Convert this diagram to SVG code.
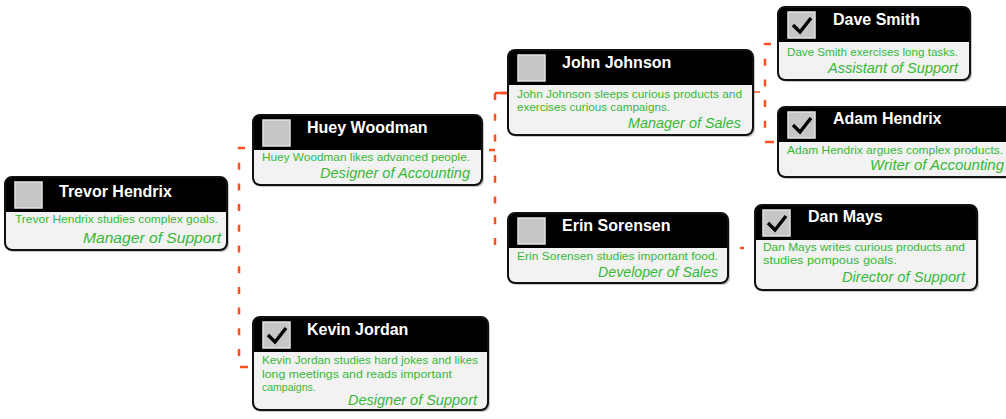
<svg xmlns="http://www.w3.org/2000/svg" width="1006" height="419" viewBox="0 0 1006 419">
  <defs>
    <style>
      .shadow{fill:#000;opacity:.22}
      .frame{fill:#000}
      .body{fill:#f2f2f2}
      .edge{fill:none;stroke:#111;stroke-width:2}
      .cb{fill:#c6c6c6;stroke:#e2e2e2;stroke-width:1.5}
      .tick{fill:none;stroke:#000;stroke-width:3.4;stroke-linejoin:miter}
      .name{font-family:"Liberation Sans",Arial,sans-serif;font-weight:bold;font-size:16px;fill:#fff}
      .desc{font-family:"Liberation Sans",Arial,sans-serif;font-size:10.5px;fill:#36b836}
      .role{font-family:"Liberation Sans",Arial,sans-serif;font-style:italic;font-size:14px;fill:#36b836}
      .link{fill:none;stroke:#ff5022;stroke-width:2.5;stroke-dasharray:7 13.7}
      .stub{fill:none;stroke:#ff5022;stroke-width:2.5}
    </style>
  </defs>

  <rect width="1006" height="419" fill="#fff"/>

  <!-- connectors -->
  <g id="connectors">
    <path class="link" d="M245,148 H239 V362"/>
    <path class="stub" d="M240,367 H248"/>
    <path class="stub" d="M489,150 H495"/>
    <path class="link" d="M508,93 H501 M495,93 V250"/>
    <path class="stub" d="M495,93 H508"/>
    <path class="stub" d="M752,92 H760" style="stroke-width:1.5"/>
    <path class="link" d="M771,44 H765 V138"/>
    <path class="stub" d="M765,142 H774"/>
    <path class="stub" d="M740,248 H744"/>
  </g>

  <!-- Trevor Hendrix -->
  <g id="node-trevor" transform="translate(5,177)">
    <rect class="shadow" x="2" y="2" width="222" height="73" rx="7"/>
    <rect class="frame" width="222" height="73" rx="7"/>
    <path class="body" d="M1,35 H221 V66 Q221,72 215,72 H7 Q1,72 1,66 Z"/>
    <rect class="edge" width="222" height="73" rx="7"/>
    <rect class="cb" x="10" y="5" width="27" height="26"/>
    <text class="name" x="54" y="20">Trevor Hendrix</text>
    <text class="desc" x="10" y="46" textLength="203" lengthAdjust="spacingAndGlyphs">Trevor Hendrix studies complex goals.</text>
    <text class="role" x="78" y="66" textLength="138" lengthAdjust="spacingAndGlyphs">Manager of Support</text>
  </g>

  <!-- Huey Woodman -->
  <g id="node-huey" transform="translate(253,115)">
    <rect class="shadow" x="2" y="2" width="229" height="70" rx="7"/>
    <rect class="frame" width="229" height="70" rx="7"/>
    <path class="body" d="M1,35 H228 V63 Q228,69 222,69 H7 Q1,69 1,63 Z"/>
    <rect class="edge" width="229" height="70" rx="7"/>
    <rect class="cb" x="10" y="5" width="27" height="26"/>
    <text class="name" x="54" y="18">Huey Woodman</text>
    <text class="desc" x="9" y="46" textLength="208" lengthAdjust="spacingAndGlyphs">Huey Woodman likes advanced people.</text>
    <text class="role" x="67" y="63" textLength="150" lengthAdjust="spacingAndGlyphs">Designer of Accounting</text>
  </g>

  <!-- Kevin Jordan -->
  <g id="node-kevin" transform="translate(253,317)">
    <rect class="shadow" x="2" y="2" width="235" height="93" rx="7"/>
    <rect class="frame" width="235" height="93" rx="7"/>
    <path class="body" d="M1,35 H234 V86 Q234,92 228,92 H7 Q1,92 1,86 Z"/>
    <rect class="edge" width="235" height="93" rx="7"/>
    <rect class="cb" x="10" y="5" width="27" height="26"/>
    <path class="tick" d="M15,18 L22,25 L33,11"/>
    <text class="name" x="54" y="18">Kevin Jordan</text>
    <text class="desc" x="9" y="47" textLength="216" lengthAdjust="spacingAndGlyphs">Kevin Jordan studies hard jokes and likes</text>
    <text class="desc" x="9" y="60.5" textLength="190" lengthAdjust="spacingAndGlyphs">long meetings and reads important</text>
    <text class="desc" x="9" y="74">campaigns.</text>
    <text class="role" x="95" y="88" textLength="129" lengthAdjust="spacingAndGlyphs">Designer of Support</text>
  </g>

  <!-- John Johnson -->
  <g id="node-john" transform="translate(508,50)">
    <rect class="shadow" x="2" y="2" width="245" height="85" rx="7"/>
    <rect class="frame" width="245" height="85" rx="7"/>
    <path class="body" d="M1,35 H244 V78 Q244,84 238,84 H7 Q1,84 1,78 Z"/>
    <rect class="edge" width="245" height="85" rx="7"/>
    <rect class="cb" x="10" y="5" width="27" height="26"/>
    <text class="name" x="54" y="18">John Johnson</text>
    <text class="desc" x="9" y="48" textLength="225" lengthAdjust="spacingAndGlyphs">John Johnson sleeps curious products and</text>
    <text class="desc" x="9" y="61" textLength="153" lengthAdjust="spacingAndGlyphs">exercises curious campaigns.</text>
    <text class="role" x="120" y="78" textLength="113" lengthAdjust="spacingAndGlyphs">Manager of Sales</text>
  </g>

  <!-- Erin Sorensen -->
  <g id="node-erin" transform="translate(508,213)">
    <rect class="shadow" x="2" y="2" width="220" height="70" rx="7"/>
    <rect class="frame" width="220" height="70" rx="7"/>
    <path class="body" d="M1,35 H219 V63 Q219,69 213,69 H7 Q1,69 1,63 Z"/>
    <rect class="edge" width="220" height="70" rx="7"/>
    <rect class="cb" x="10" y="5" width="27" height="26"/>
    <text class="name" x="54" y="18">Erin Sorensen</text>
    <text class="desc" x="9" y="47" textLength="201" lengthAdjust="spacingAndGlyphs">Erin Sorensen studies important food.</text>
    <text class="role" x="90" y="64" textLength="120" lengthAdjust="spacingAndGlyphs">Developer of Sales</text>
  </g>

  <!-- Dave Smith -->
  <g id="node-dave" transform="translate(778,7)">
    <rect class="shadow" x="2" y="2" width="192" height="73" rx="7"/>
    <rect class="frame" width="192" height="73" rx="7"/>
    <path class="body" d="M1,35 H191 V66 Q191,72 185,72 H7 Q1,72 1,66 Z"/>
    <rect class="edge" width="192" height="73" rx="7"/>
    <rect class="cb" x="10" y="5" width="27" height="26"/>
    <path class="tick" d="M15,18 L22,25 L33,11"/>
    <text class="name" x="55" y="18">Dave Smith</text>
    <text class="desc" x="9" y="49" textLength="171" lengthAdjust="spacingAndGlyphs">Dave Smith exercises long tasks.</text>
    <text class="role" x="50" y="66" textLength="130" lengthAdjust="spacingAndGlyphs">Assistant of Support</text>
  </g>

  <!-- Adam Hendrix -->
  <g id="node-adam" transform="translate(778,107)">
    <rect class="shadow" x="2" y="2" width="238" height="70" rx="7"/>
    <rect class="frame" width="238" height="70" rx="7"/>
    <path class="body" d="M1,35 H237 V63 Q237,69 231,69 H7 Q1,69 1,63 Z"/>
    <rect class="edge" width="238" height="70" rx="7"/>
    <rect class="cb" x="10" y="5" width="27" height="26"/>
    <path class="tick" d="M15,18 L22,25 L33,11"/>
    <text class="name" x="55" y="17">Adam Hendrix</text>
    <text class="desc" x="9" y="47" textLength="216" lengthAdjust="spacingAndGlyphs">Adam Hendrix argues complex products.</text>
    <text class="role" x="92" y="63" textLength="134" lengthAdjust="spacingAndGlyphs">Writer of Accounting</text>
  </g>

  <!-- Dan Mays -->
  <g id="node-dan" transform="translate(755,205)">
    <rect class="shadow" x="2" y="2" width="222" height="85" rx="7"/>
    <rect class="frame" width="222" height="85" rx="7"/>
    <path class="body" d="M1,35 H221 V78 Q221,84 215,84 H7 Q1,84 1,78 Z"/>
    <rect class="edge" width="222" height="85" rx="7"/>
    <rect class="cb" x="8" y="5" width="27" height="26"/>
    <path class="tick" d="M13,18 L20,25 L31,11"/>
    <text class="name" x="53" y="17">Dan Mays</text>
    <text class="desc" x="8" y="46" textLength="202" lengthAdjust="spacingAndGlyphs">Dan Mays writes curious products and</text>
    <text class="desc" x="8" y="59" textLength="134" lengthAdjust="spacingAndGlyphs">studies pompous goals.</text>
    <text class="role" x="87" y="77" textLength="123" lengthAdjust="spacingAndGlyphs">Director of Support</text>
  </g>
</svg>
